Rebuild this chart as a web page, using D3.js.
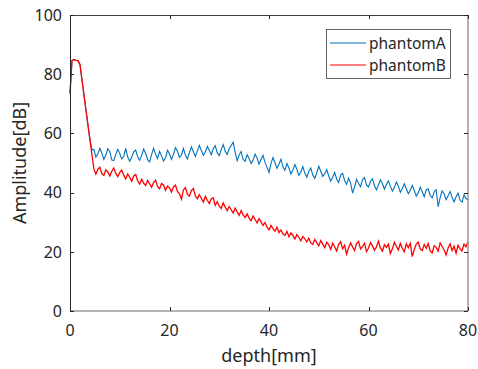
<!DOCTYPE html>
<html>
<head>
<meta charset="utf-8">
<script src="https://cdn.jsdelivr.net/npm/d3@7"></script>
<style>
  body { margin: 0; background: #fff; }
  text { font-family: "Noto Sans", sans-serif; fill: #262626; }
</style>
</head>
<body>
<svg id="chart" width="478" height="369"></svg>
<script>
// sampling step of the depth axis in mm
const depthStep = 0.4;

// shared start (both phantoms overlap up to ~3.6 mm)
const startValues = [73.5, 84.6, 85.0, 84.7, 84.6, 83.3, 78.2, 73.1, 68.0, 63.0];

const phantomA = startValues.concat([
  58.0, 54.5,
  54.6, 52.0, 53.1, 55.0, 53.4, 51.2, 52.6, 54.8,
  53.9, 51.0, 50.8, 52.9, 54.6, 53.2, 51.4, 52.2, 54.9, 52.0,
  50.6, 51.9, 53.8, 54.4, 52.1, 50.9, 52.6, 54.7, 53.3, 51.1,
  50.4, 52.8, 55.0, 53.0, 51.5, 53.9, 52.4, 50.7, 51.8, 54.3,
  53.1, 51.2, 52.9, 55.2, 54.0, 51.9, 52.7, 54.9, 52.6, 51.3,
  53.5, 55.4, 53.8, 52.2, 54.1, 56.0, 54.2, 52.6, 53.7, 55.6,
  54.3, 52.8, 54.9, 55.8, 53.4, 52.5, 54.6, 56.2, 54.0, 52.9,
  54.8, 55.9, 57.0, 53.6, 50.8, 52.7, 53.9, 51.2, 50.6, 52.8,
  51.5, 49.8, 50.9, 53.0, 51.7, 49.6, 51.2, 52.6, 50.2, 48.6,
  46.8, 49.9, 51.8, 50.1, 48.2, 49.6, 51.3, 48.7, 47.5, 49.8,
  48.4, 46.3, 47.6, 49.5, 47.9, 45.8, 46.9, 48.8, 46.6, 45.2,
  47.1, 48.3, 45.9, 44.8, 46.7, 48.9, 47.2, 45.5, 46.3, 47.8,
  45.6, 43.9, 45.2, 46.8, 44.6, 43.4, 45.9, 46.5, 44.1, 42.8,
  44.9, 43.2, 39.8, 41.9, 44.5, 43.1, 42.0, 44.4, 45.1, 42.5,
  41.9, 43.8, 44.7, 42.3, 40.9, 42.6, 44.3, 43.0, 41.2, 42.7,
  44.0, 42.1, 40.5, 41.7, 43.6, 42.2, 40.1, 41.4, 43.0, 41.3,
  39.6, 40.8, 42.4, 40.7, 38.8, 39.9, 41.8, 40.4, 38.6, 40.9,
  41.3, 39.1, 38.2, 40.3, 41.0, 35.2, 38.3, 40.6, 39.5, 37.6,
  38.9, 40.4, 38.4, 36.9, 38.6, 39.8, 37.4, 36.8, 39.2, 38.0, 37.5
]);

const phantomB = startValues.concat([
  58.0, 53.0,
  48.0, 46.2, 47.9, 48.6, 46.4, 45.8, 47.7, 46.9,
  45.6, 47.2, 48.3, 46.5, 45.4, 46.8, 47.6, 45.9, 44.6, 46.3,
  45.2, 43.8, 45.6, 46.1, 44.0, 42.9, 44.5, 43.2, 42.4, 44.1,
  43.0, 41.8, 43.4, 44.2, 42.0, 41.3, 43.1, 42.6, 40.8, 42.2,
  41.6, 40.2, 41.9, 42.5, 40.4, 39.6, 37.8, 40.9, 41.7, 39.4,
  38.8, 40.7, 41.4, 38.9, 37.9, 39.3, 38.1, 36.8, 38.7, 37.4,
  36.3, 37.9, 38.2, 35.7, 36.9, 35.4, 34.6, 36.5, 35.1, 33.9,
  35.3, 34.2, 33.1, 34.8, 33.5, 32.3, 33.9, 32.5, 31.6, 32.8,
  31.4, 30.5, 32.1, 30.9, 29.8, 31.2, 30.1, 28.9, 29.9, 28.3,
  27.4, 28.9, 27.8, 26.9, 28.3, 26.5, 27.4, 26.0, 25.6, 26.9,
  25.1, 26.4, 25.6, 24.3, 25.8, 24.9, 23.7, 25.2, 24.4, 23.3,
  24.6, 23.0, 22.5, 24.2, 23.1, 22.0, 23.8, 22.6, 21.4, 23.2,
  22.4, 20.8, 22.9, 21.7, 20.3, 22.5, 23.4, 21.0, 22.2, 19.2,
  21.4, 23.0, 21.6, 20.4, 22.8, 23.5, 20.9, 21.8, 22.9, 20.1,
  21.2, 23.1, 22.0, 20.5, 21.7, 23.6, 21.3, 20.2, 22.4, 21.5,
  22.6, 19.4, 21.0, 23.2, 21.9, 20.6, 22.8, 21.1, 20.0, 22.7,
  21.4, 22.9, 18.4, 20.8, 22.6, 23.3, 21.0, 20.4, 22.5, 21.2,
  22.8, 20.3, 19.6, 22.1, 21.5, 20.2, 23.0, 21.8, 20.6, 18.9,
  21.3, 22.7, 20.4, 21.9, 19.5, 22.2, 21.0, 20.3, 22.6, 21.7, 23.4
]);

const xTicks = [0, 20, 40, 60, 80];
const yTicks = [0, 20, 40, 60, 80, 100];

const seriesNames = ['phantomA', 'phantomB'];
const seriesColors = ['#0072BD', '#FF0000'];

const svg = d3.select('#chart');

const box = { left: 70, right: 468, top: 15, bottom: 311 };

const x = d3.scaleLinear().domain([0, 80]).range([box.left, box.right]);
const y = d3.scaleLinear().domain([0, 100]).range([box.bottom, box.top]);

// lines
const line = d3.line()
  .x((d, i) => x(i * depthStep))
  .y(d => y(d));

const plot = svg.append('g');

plot.append('path')
  .datum(phantomA)
  .attr('fill', 'none')
  .attr('stroke', seriesColors[0])
  .attr('stroke-width', 1.1)
  .attr('d', line);

plot.append('path')
  .datum(phantomB)
  .attr('fill', 'none')
  .attr('stroke', seriesColors[1])
  .attr('stroke-width', 1.3)
  .attr('d', line);

// box
const frame = svg.append('g');
frame.append('line').attr('x1', box.left + 0.5).attr('x2', box.left + 0.5).attr('y1', box.top).attr('y2', box.bottom)
  .attr('stroke', '#262626');
frame.append('line').attr('x1', box.left).attr('x2', box.right).attr('y1', box.top + 0.5).attr('y2', box.top + 0.5)
  .attr('stroke', '#404040');
frame.append('line').attr('x1', box.left).attr('x2', box.right).attr('y1', box.bottom).attr('y2', box.bottom)
  .attr('stroke', '#999').attr('stroke-width', 1.5);
frame.append('line').attr('x1', box.right).attr('x2', box.right).attr('y1', box.top).attr('y2', box.bottom)
  .attr('stroke', '#999').attr('stroke-width', 1.5);

// ticks, pointing inward on all four sides
const tickLen = 4;
frame.selectAll('.xt').data(xTicks).enter().append('path')
  .attr('stroke', '#262626')
  .attr('d', d => `M${Math.round(x(d)) + 0.5},${box.bottom}v${-tickLen}M${Math.round(x(d)) + 0.5},${box.top}v${tickLen}`);
frame.selectAll('.yt').data(yTicks).enter().append('path')
  .attr('stroke', '#262626')
  .attr('d', d => `M${box.left},${Math.round(y(d)) + 0.5}h${tickLen}M${box.right},${Math.round(y(d)) + 0.5}h${-tickLen}`);

// tick labels
svg.append('g').selectAll('text').data(xTicks).enter().append('text')
  .attr('x', d => x(d))
  .attr('y', 336)
  .attr('text-anchor', 'middle')
  .attr('font-size', 16)
  .text(d => d);

svg.append('g').selectAll('text').data(yTicks).enter().append('text')
  .attr('x', 62)
  .attr('y', d => y(d))
  .attr('dy', '0.36em')
  .attr('text-anchor', 'end')
  .attr('font-size', 16)
  .text(d => d);

// axis labels
svg.append('text')
  .attr('x', (box.left + box.right) / 2)
  .attr('y', 362)
  .attr('text-anchor', 'middle')
  .attr('font-size', 18)
  .text('depth[mm]');

svg.append('text')
  .attr('transform', `translate(26,${(box.top + box.bottom) / 2}) rotate(-90)`)
  .attr('text-anchor', 'middle')
  .attr('font-size', 18)
  .text('Amplitude[dB]');

// legend
const legend = svg.append('g');
legend.append('rect')
  .attr('x', 326.5).attr('y', 29.5).attr('width', 124).attr('height', 49)
  .attr('fill', '#fff').attr('stroke', '#404040').attr('stroke-width', 0.8);

seriesNames.forEach((name, i) => {
  const ly = 43 + i * 22;
  legend.append('line')
    .attr('x1', 330).attr('x2', 366).attr('y1', ly).attr('y2', ly)
    .attr('stroke', seriesColors[i]);
  legend.append('text')
    .attr('x', 369).attr('y', ly).attr('dy', '0.36em')
    .attr('font-size', 15.5)
    .text(name);
});
</script>
</body>
</html>
